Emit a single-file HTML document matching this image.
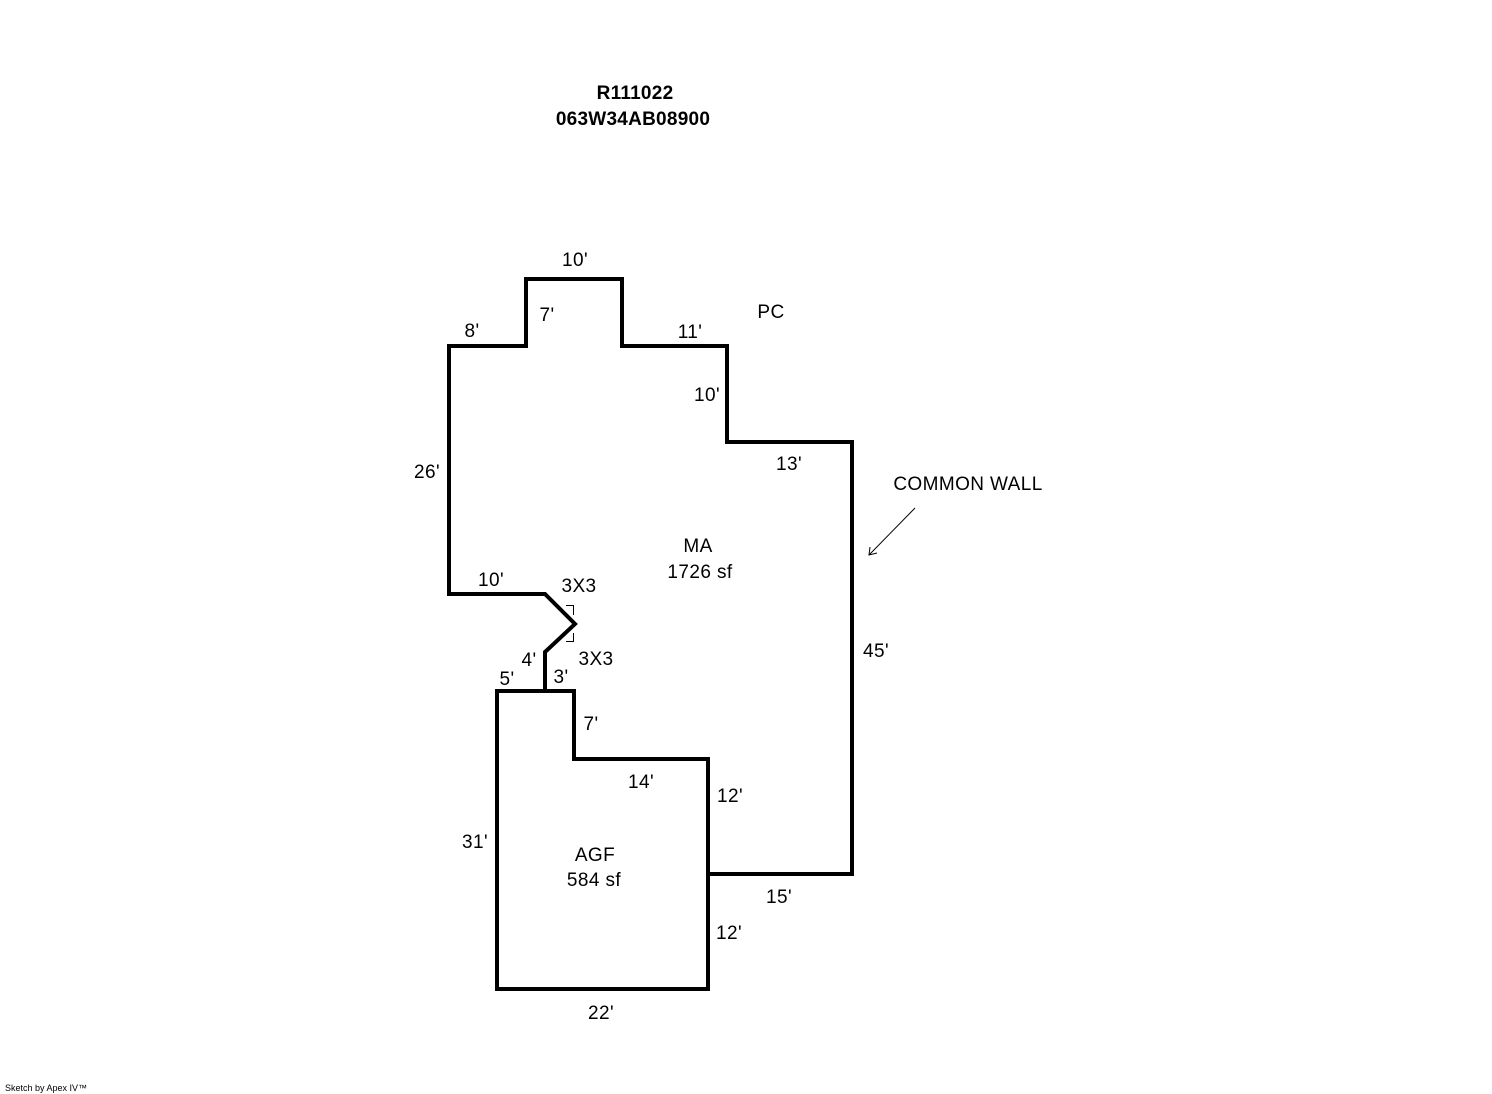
<!DOCTYPE html>
<html>
<head>
<meta charset="utf-8">
<style>
  html, body { margin:0; padding:0; background:#fff; }
  body { width:1492px; height:1094px; overflow:hidden; }
  svg { display:block; }
  text { font-family: "Liberation Sans", Arial, sans-serif; font-size:19px; fill:#000; letter-spacing:0.4px; }
  text.b { font-weight:bold; letter-spacing:0.25px; }
</style>
</head>
<body>
<svg width="1492" height="1094" viewBox="0 0 1492 1094" xmlns="http://www.w3.org/2000/svg">
  <rect width="1492" height="1094" fill="#fff"/>

  <!-- MA outline -->
  <polyline fill="none" stroke="#000" stroke-width="4" stroke-linejoin="miter" stroke-linecap="square"
    points="449,594 449,346 526,346 526,279 622,279 622,346 727,346 727,442 852,442 852,874 708,874"/>
  <polyline fill="none" stroke="#000" stroke-width="4" stroke-linejoin="miter"
    points="449,594 545,594 575,624 545,652 545,691"/>

  <!-- AGF outline -->
  <polygon fill="none" stroke="#000" stroke-width="4" stroke-linejoin="miter"
    points="497,691 574,691 574,759 708,759 708,989 497,989"/>

  <!-- 3X3 bracket marks -->
  <polyline fill="none" stroke="#000" stroke-width="1" points="566,605.5 573.5,605.5 573.5,615"/>
  <polyline fill="none" stroke="#000" stroke-width="1" points="573.5,633 573.5,641.5 566,641.5"/>

  <!-- Common wall arrow -->
  <line x1="915" y1="508" x2="869" y2="555" stroke="#000" stroke-width="1"/>
  <polyline fill="none" stroke="#000" stroke-width="1" points="870,547 869,555 877,553"/>

  <!-- Title -->
  <text class="b" x="635" y="99" text-anchor="middle">R111022</text>
  <text class="b" x="633" y="125" text-anchor="middle">063W34AB08900</text>

  <!-- Labels -->
  <text x="575" y="266" text-anchor="middle">10'</text>
  <text x="547" y="321" text-anchor="middle">7'</text>
  <text x="472" y="337" text-anchor="middle">8'</text>
  <text x="690" y="338" text-anchor="middle">11'</text>
  <text x="771" y="318" text-anchor="middle">PC</text>
  <text x="707" y="401" text-anchor="middle">10'</text>
  <text x="427" y="478" text-anchor="middle">26'</text>
  <text x="789" y="470" text-anchor="middle">13'</text>
  <text x="968" y="490" text-anchor="middle">COMMON WALL</text>
  <text x="698" y="552" text-anchor="middle">MA</text>
  <text x="700" y="578" text-anchor="middle">1726 sf</text>
  <text x="491" y="586" text-anchor="middle">10'</text>
  <text x="579" y="592" text-anchor="middle">3X3</text>
  <text x="596" y="665" text-anchor="middle">3X3</text>
  <text x="529" y="666" text-anchor="middle">4'</text>
  <text x="561" y="683" text-anchor="middle">3'</text>
  <text x="507" y="685" text-anchor="middle">5'</text>
  <text x="591" y="730" text-anchor="middle">7'</text>
  <text x="876" y="657" text-anchor="middle">45'</text>
  <text x="641" y="788" text-anchor="middle">14'</text>
  <text x="730" y="802" text-anchor="middle">12'</text>
  <text x="475" y="848" text-anchor="middle">31'</text>
  <text x="595" y="861" text-anchor="middle">AGF</text>
  <text x="594" y="886" text-anchor="middle">584 sf</text>
  <text x="779" y="903" text-anchor="middle">15'</text>
  <text x="729" y="939" text-anchor="middle">12'</text>
  <text x="601" y="1019" text-anchor="middle">22'</text>

  <text x="5" y="1091" style="font-size:9px;letter-spacing:0">Sketch by Apex IV™</text>
</svg>
</body>
</html>
